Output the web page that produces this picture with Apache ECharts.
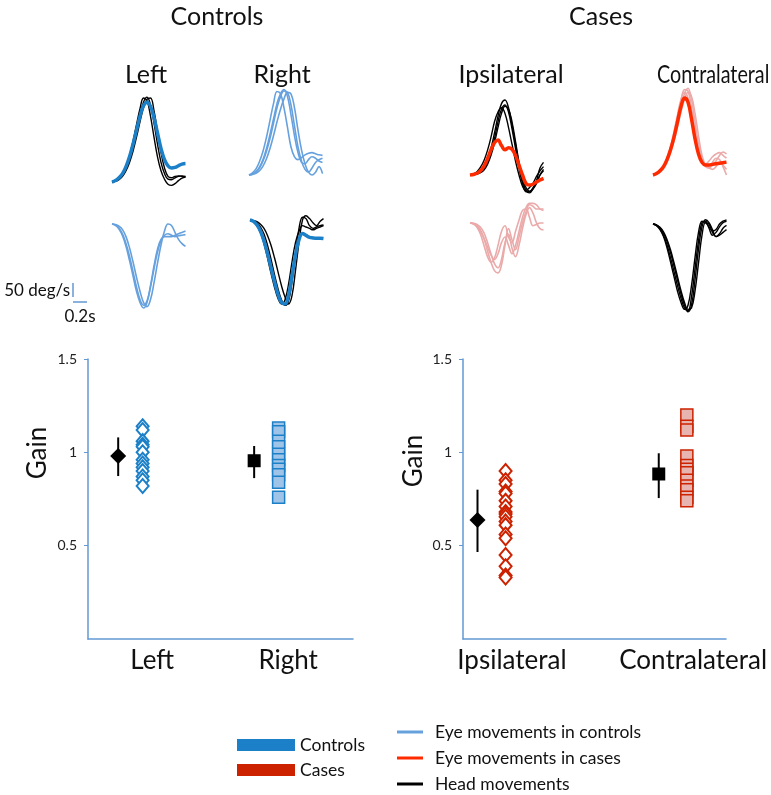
<!DOCTYPE html>
<html>
<head>
<meta charset="utf-8">
<title>VOR gain - controls and cases</title>
<script src="https://cdn.jsdelivr.net/npm/echarts@6/dist/echarts.min.js"></script>
<style>
  html, body { margin: 0; padding: 0; background: #fff; }
  #chart { width: 771px; height: 795px; }
</style>
</head>
<body>
<div id="chart"></div>
<script>
// colours
const BLUE_LIGHT = '#66a1de';
const BLUE = '#1c80c8';
const RED_LIGHT = '#ebaaaa';
const RED = '#ff2b00';
const RED_DARK = '#cc2200';
const AXIS_BLUE = '#6399d4';
const FONT = 'Lato';

// sample times (s) of every velocity trace
const sampleTimes = [0, 0.05, 0.1, 0.15, 0.2, 0.25, 0.3, 0.35, 0.4, 0.45, 0.5,
  0.55, 0.6, 0.65, 0.7, 0.75, 0.8, 0.85, 0.9, 0.95, 1.0, 1.05];

// ---- velocity traces, deg/s ----
// controls, left
const ctrlLeftHead = [
  [0, 4, 12, 28, 55, 95, 145, 205, 262, 300, 290, 235, 160, 90, 40, 10, -8, -12, -6, 5, 14, 18],
  [0, 3, 10, 22, 45, 80, 125, 180, 240, 285, 303, 275, 210, 135, 70, 30, 10, 8, 15, 20, 22, 20],
  [0, 2, 8, 20, 40, 70, 110, 160, 215, 265, 295, 300, 255, 180, 105, 50, 20, 15, 20, 22, 20, 18]
];
const ctrlLeftEyeMean = [0, 5, 15, 30, 55, 90, 135, 185, 235, 272, 285, 270, 230, 175, 120, 80, 58, 50, 52, 58, 64, 66];
const ctrlLeftEyeDown = [
  [0, -2, -8, -20, -45, -85, -135, -190, -240, -280, -295, -270, -210, -140, -75, -25, 0, -5, -30, -55, -70, -80],
  [0, -4, -15, -35, -70, -115, -170, -225, -270, -290, -275, -225, -160, -100, -60, -40, -35, -40, -45, -42, -40, -38],
  [0, -5, -18, -42, -80, -130, -185, -240, -280, -300, -280, -220, -150, -90, -55, -45, -45, -45, -40, -35, -30, -25]
];
// controls, right
const ctrlRightEye = [
  [0, 8, 22, 48, 85, 135, 195, 255, 298, 290, 240, 170, 100, 65, 55, 62, 72, 78, 80, 76, 72, 70],
  [0, 4, 12, 28, 55, 95, 145, 200, 255, 290, 305, 280, 215, 140, 80, 45, 40, 55, 65, 60, 50, 45],
  [0, 3, 10, 25, 50, 85, 130, 185, 240, 280, 300, 295, 250, 175, 100, 50, 20, 10, 25, 45, 55, 60],
  [0, 2, 6, 15, 32, 58, 95, 140, 190, 235, 272, 295, 290, 240, 160, 90, 40, 10, 0, 10, 30, 5]
];
const ctrlRightHeadDown = [
  [0, -3, -10, -25, -50, -90, -140, -195, -245, -285, -305, -290, -220, -120, -30, 10, 5, -20, -30, -25, -20, -18],
  [0, -2, -6, -15, -30, -55, -90, -135, -185, -235, -275, -300, -270, -180, -80, 0, 15, 5, -10, -20, -5, 5],
  [0, -6, -20, -45, -85, -135, -190, -240, -280, -300, -285, -230, -150, -80, -40, -20, -25, -30, -35, -30, -25, -20]
];
const ctrlRightEyeMeanDown = [0, -5, -18, -40, -75, -120, -170, -220, -265, -295, -300, -270, -200, -125, -70, -48, -55, -62, -64, -65, -65, -66];
// cases, ipsilateral
const ipsiHead = [
  [0, 2, 6, 15, 30, 55, 95, 150, 210, 255, 268, 240, 180, 110, 40, -20, -55, -64, -50, -20, 25, 45],
  [0, 4, 12, 28, 52, 88, 135, 190, 225, 240, 220, 170, 110, 50, 0, -40, -55, -45, -30, -5, 15, 30],
  [0, 1, 4, 10, 22, 45, 80, 130, 190, 235, 250, 225, 165, 95, 25, -30, -60, -60, -45, -25, 0, 15],
  [0, 1, 3, 8, 18, 38, 70, 115, 170, 220, 245, 235, 190, 120, 45, -15, -45, -58, -50, -30, 0, 20]
];
const ipsiEyeMean = [0, 2, 6, 15, 32, 58, 90, 115, 125, 105, 90, 97, 92, 70, 35, 0, -30, -36, -33, -25, -18, -12];
const ipsiEyeDown = [
  [0, -2, -8, -25, -55, -100, -140, -170, -178, -150, -80, -20, -60, -95, -50, 0, 40, 65, 60, 50, 50, 50],
  [0, -4, -15, -40, -80, -120, -140, -125, -80, -30, -10, -50, -70, -30, 10, 45, 50, 20, -10, -5, 0, 0],
  [0, -1, -5, -15, -35, -70, -110, -145, -160, -130, -70, -40, -90, -120, -80, -20, 30, 55, 35, 0, -20, -25],
  [0, -3, -12, -30, -55, -85, -115, -130, -110, -70, -50, -80, -110, -80, -30, 20, 55, 70, 70, 65, 50, 45]
];
// cases, contralateral
const contraEye = [
  [0, 4, 12, 28, 55, 95, 145, 205, 265, 305, 300, 240, 160, 90, 50, 40, 50, 65, 75, 80, 70, 60],
  [0, 3, 10, 25, 48, 82, 125, 180, 240, 290, 310, 270, 190, 110, 60, 35, 30, 45, 60, 55, 30, 0],
  [0, 5, 15, 32, 60, 100, 155, 215, 270, 295, 275, 215, 140, 80, 45, 30, 25, 35, 50, 70, 82, 75],
  [0, 3, 9, 22, 45, 78, 120, 170, 225, 270, 295, 280, 220, 140, 70, 35, 25, 20, 30, 45, 35, 20]
];
const contraEyeMean = [0, 5, 15, 30, 55, 90, 135, 190, 245, 275, 260, 200, 130, 75, 45, 36, 36, 38, 40, 42, 44, 46];
const contraHeadDown = [
  [0, -5, -18, -40, -75, -120, -170, -220, -265, -300, -310, -260, -160, -60, 5, 10, -15, -40, -30, -10, 5, 10],
  [0, -4, -14, -32, -62, -102, -150, -200, -250, -290, -314, -290, -200, -90, -10, 15, 5, -20, -45, -40, -30, -20],
  [0, -6, -20, -45, -85, -135, -188, -240, -280, -305, -290, -220, -120, -30, 10, 5, -10, -25, -20, 0, 10, 15],
  [0, -3, -12, -28, -55, -92, -138, -188, -238, -280, -305, -300, -240, -140, -40, 5, 0, -30, -45, -35, -15, -5]
];
// scale bar
const scaleDeg = 50;
const scaleSec = 0.2;

// ---- gain ----
const groupTitles = ['Controls', 'Cases'];
const ctrlCategories = ['Left', 'Right'];
const caseCategories = ['Ipsilateral', 'Contralateral'];
const gainTicks = [0.5, 1, 1.5];
const ctrlGainLeft = [1.14, 1.12, 1.06, 1.04, 1.03, 1.0, 0.96, 0.94, 0.92, 0.90, 0.87, 0.85, 0.82];
const ctrlGainRight = [1.13, 1.11, 1.06, 1.03, 0.99, 0.96, 0.93, 0.91, 0.88, 0.84, 0.76];
const caseGainIpsi = [0.90, 0.85, 0.83, 0.79, 0.78, 0.74, 0.71, 0.68, 0.67, 0.655, 0.63, 0.61, 0.56, 0.54, 0.45, 0.39, 0.34, 0.33];
const caseGainContra = [1.20, 1.14, 1.12, 0.98, 0.93, 0.91, 0.89, 0.85, 0.82, 0.80, 0.76, 0.74];
const ctrlMean = [0.98, 0.955];
const ctrlLow = [0.873, 0.862];
const ctrlHigh = [1.08, 1.034];
const caseMean = [0.637, 0.884];
const caseLow = [0.466, 0.755];
const caseHigh = [0.80, 0.995];

// ---- layout ----
const PX_PER_SEC = 70;   // 0.2 s = 14 px
const PX_PER_DEG = 0.28; // 50 deg/s = 14 px
const T_MAX = 1.1;
const UP_RANGE = [-80, 320];
const DOWN_RANGE = [-330, 90];

const traceStyle = {
  head: { name: 'Head movements', color: '#000', width: 1.4 },
  eyeCtrl: { name: 'Eye movements in controls', color: BLUE_LIGHT, width: 1.6 },
  eyeCtrlMean: { name: 'Eye movements in controls', color: BLUE, width: 3.5 },
  eyeCase: { name: 'Eye movements in cases', color: RED_LIGHT, width: 1.6 },
  eyeCaseMean: { name: 'Eye movements in cases', color: RED, width: 3.5 }
};

const tracePanels = [
  { left: 112, base: 182, up: true, sets: [[ctrlLeftHead, 'head'], [[ctrlLeftEyeMean], 'eyeCtrlMean']] },
  { left: 249, base: 175, up: true, sets: [[ctrlRightEye, 'eyeCtrl']] },
  { left: 112, base: 224, up: false, sets: [[ctrlLeftEyeDown, 'eyeCtrl']] },
  { left: 250, base: 220, up: false, sets: [[ctrlRightHeadDown, 'head'], [[ctrlRightEyeMeanDown], 'eyeCtrlMean']] },
  { left: 470, base: 175, up: true, sets: [[ipsiHead, 'head'], [[ipsiEyeMean], 'eyeCaseMean']] },
  { left: 470, base: 223, up: false, sets: [[ipsiEyeDown, 'eyeCase']] },
  { left: 653, base: 175, up: true, sets: [[contraEye, 'eyeCase'], [[contraEyeMean], 'eyeCaseMean']] },
  { left: 653, base: 224, up: false, sets: [[contraHeadDown, 'head']] }
];

const grids = [], xAxes = [], yAxes = [], series = [];

tracePanels.forEach(p => {
  const range = p.up ? UP_RANGE : DOWN_RANGE;
  const idx = grids.length;
  grids.push({
    left: p.left, top: p.base - range[1] * PX_PER_DEG,
    width: T_MAX * PX_PER_SEC, height: (range[1] - range[0]) * PX_PER_DEG
  });
  xAxes.push({ gridIndex: idx, type: 'value', min: 0, max: T_MAX, show: false });
  yAxes.push({ gridIndex: idx, type: 'value', min: range[0], max: range[1], show: false });
  p.sets.forEach(([traces, kind]) => {
    const st = traceStyle[kind];
    traces.forEach(tr => {
      series.push({
        type: 'line', name: st.name, xAxisIndex: idx, yAxisIndex: idx,
        data: tr.map((v, i) => [sampleTimes[i], v]),
        smooth: 0.4, symbol: 'none', silent: true, clip: false,
        itemStyle: { color: st.color },
        lineStyle: { color: st.color, width: st.width },
        z: st.width > 2 ? 4 : (kind === 'head' ? 3 : 2)
      });
    });
  });
});

// scale bar grid (same px scale as the traces)
{
  const idx = grids.length;
  grids.push({ left: 73, top: 283, width: 0.2 * PX_PER_SEC, height: 70 * PX_PER_DEG });
  xAxes.push({ gridIndex: idx, type: 'value', min: 0, max: 0.2, show: false });
  yAxes.push({ gridIndex: idx, type: 'value', min: -20, max: 50, show: false });
  const barStyle = { color: AXIS_BLUE, width: 1.5 };
  series.push({
    type: 'line', xAxisIndex: idx, yAxisIndex: idx, symbol: 'none', silent: true, clip: false,
    data: [[0, 0], [0, scaleDeg]], lineStyle: barStyle
  });
  series.push({
    type: 'line', xAxisIndex: idx, yAxisIndex: idx, symbol: 'none', silent: true, clip: false,
    data: [[0, -18], [scaleSec, -18]], lineStyle: barStyle
  });
}

// gain panels
const gainPanels = [
  {
    left: 88, width: 265, xMin: 0.528, xMax: 2.477, cats: ctrlCategories, legendName: 'Controls',
    meanOff: -0.25, subjOff: -0.07,
    subj: [ctrlGainLeft, ctrlGainRight], mean: ctrlMean, low: ctrlLow, high: ctrlHigh,
    edge: BLUE, fill: '#9fc4e8'
  },
  {
    left: 463, width: 263, xMin: 0.73, xMax: 2.181, cats: caseCategories, legendName: 'Cases',
    meanOff: -0.19, subjOff: -0.035,
    subj: [caseGainIpsi, caseGainContra], mean: caseMean, low: caseLow, high: caseHigh,
    edge: RED_DARK, fill: '#e8b4b0'
  }
];

gainPanels.forEach(g => {
  const idx = grids.length;
  grids.push({ left: g.left, top: 359, width: g.width, height: 280 });
  xAxes.push({
    gridIndex: idx, type: 'value', min: g.xMin, max: g.xMax,
    axisLine: { show: true, onZero: false, lineStyle: { color: AXIS_BLUE, width: 1.5 } },
    axisTick: { show: false },
    splitLine: { show: false },
    axisLabel: {
      customValues: [1, 2], margin: 9,
      formatter: v => g.cats[Math.round(v) - 1] || '',
      fontFamily: FONT, fontSize: 26, color: '#111'
    }
  });
  yAxes.push({
    gridIndex: idx, type: 'value', min: 0, max: 1.5, interval: 0.5,
    axisLine: { show: true, lineStyle: { color: AXIS_BLUE, width: 1.5 } },
    axisTick: { show: true, length: 4, lineStyle: { color: AXIS_BLUE } },
    splitLine: { show: false },
    axisLabel: {
      showMinLabel: false, margin: 11, fontFamily: FONT, fontSize: 14, color: '#222',
      formatter: v => (gainTicks.indexOf(v) >= 0 ? String(v) : '')
    }
  });
  // diamonds for first category, squares for second
  g.subj.forEach((vals, c) => {
    const isSq = c === 1;
    series.push({
      type: 'scatter', name: g.legendName, xAxisIndex: idx, yAxisIndex: idx,
      symbol: isSq ? 'rect' : 'diamond', symbolSize: isSq ? 12 : [12, 14],
      data: vals.map(v => [c + 1 + g.subjOff, v]),
      itemStyle: {
        color: isSq ? g.fill : '#fff', borderColor: g.edge, borderWidth: isSq ? 1.5 : 2, opacity: 1
      },
      silent: true, z: 3
    });
  });
  // error bars
  series.push({
    type: 'custom', xAxisIndex: idx, yAxisIndex: idx, silent: true, z: 4,
    data: g.mean.map((m, c) => [c + 1 + g.meanOff, m, g.low[c], g.high[c]]),
    renderItem: (params, api) => {
      const a = api.coord([api.value(0), api.value(2)]);
      const b = api.coord([api.value(0), api.value(3)]);
      return { type: 'line', shape: { x1: a[0], y1: a[1], x2: b[0], y2: b[1] }, style: { stroke: '#000', lineWidth: 2 } };
    }
  });
  series.push({
    type: 'scatter', xAxisIndex: idx, yAxisIndex: idx, silent: true, z: 5,
    data: g.mean.map((m, c) => ({
      value: [c + 1 + g.meanOff, m],
      symbol: c === 1 ? 'rect' : 'diamond',
      symbolSize: c === 1 ? 13 : 16
    })),
    itemStyle: { color: '#000', opacity: 1 }
  });
});

const txt = (text, x, y, size, extra) => Object.assign({
  type: 'text', x: x, y: y, silent: true,
  style: { text: text, fontFamily: FONT, fontSize: size, fill: '#111', align: 'center', verticalAlign: 'middle' }
}, extra || {});

const graphic = [
  txt(groupTitles[0], 217, 17, 25),
  txt(groupTitles[1], 601, 17, 25),
  txt(ctrlCategories[0], 146, 75, 25),
  txt(ctrlCategories[1], 282, 75, 25),
  txt(caseCategories[0], 511, 75, 25),
  txt(caseCategories[1], 657, 75, 25, { scaleX: 0.79 }),
  txt('Gain', 38, 453, 26, { rotation: Math.PI / 2 }),
  txt('Gain', 414, 461, 26, { rotation: Math.PI / 2 }),
  txt(scaleDeg + ' deg/s', 70, 291, 17),
  txt(scaleSec + 's', 80, 317, 17)
];
graphic[5].style.align = 'left';
graphic[8].style.align = 'right';

const chart = echarts.init(document.getElementById('chart'), null, { renderer: 'canvas' });
chart.setOption({
  animation: false,
  backgroundColor: '#fff',
  grid: grids,
  xAxis: xAxes,
  yAxis: yAxes,
  series: series,
  graphic: graphic,
  legend: [
    {
      orient: 'vertical', left: 237, top: 735, padding: 0, itemWidth: 58, itemHeight: 12, itemGap: 5,
      icon: 'rect', selectedMode: false,
      textStyle: { fontFamily: FONT, fontSize: 17.5, color: '#111', lineHeight: 20 },
      data: [
        { name: 'Controls', itemStyle: { color: BLUE, borderWidth: 0 } },
        { name: 'Cases', itemStyle: { color: RED_DARK, borderWidth: 0 } }
      ]
    },
    {
      orient: 'vertical', left: 397, top: 723, padding: 0, itemWidth: 26, itemHeight: 3, itemGap: 8,
      icon: 'rect', selectedMode: false,
      textStyle: { fontFamily: FONT, fontSize: 17.5, color: '#111', lineHeight: 18, padding: [0, 0, 0, 7] },
      data: [
        { name: 'Eye movements in controls', itemStyle: { color: BLUE_LIGHT, borderWidth: 0 } },
        { name: 'Eye movements in cases', itemStyle: { color: RED, borderWidth: 0 } },
        { name: 'Head movements', itemStyle: { color: '#000', borderWidth: 0 } }
      ]
    }
  ]
});
</script>
</body>
</html>
